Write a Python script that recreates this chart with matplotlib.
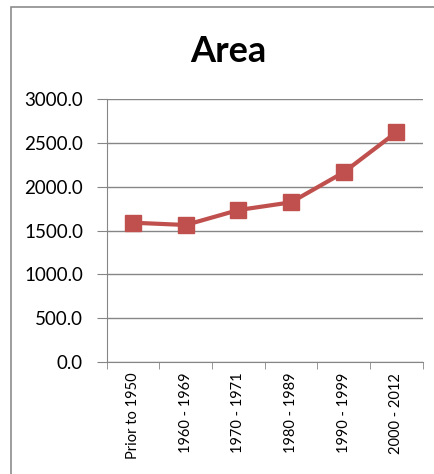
import numpy as np
import matplotlib
matplotlib.use('Agg')
import matplotlib.pyplot as plt
from matplotlib.patches import Rectangle
from matplotlib.ticker import FormatStrFormatter, FixedLocator

# data
periods = ['Prior to 1950', '1960 - 1969', '1970 - 1971',
           '1980 - 1989', '1990 - 1999', '2000 - 2012']
area = [1589, 1563, 1734, 1822, 2165, 2623]
y_ticks = [0, 500, 1000, 1500, 2000, 2500, 3000]

plt.rcParams['font.family'] = ['Lato', 'DejaVu Sans']

W, H = 434, 474
fig = plt.figure(figsize=(W / 100, H / 100), dpi=100)

# chart border (only left/top visible in the reference)
fig.patches.append(Rectangle((11 / W, -0.01), 1.1, 1.01 - 7 / H,
                             transform=fig.transFigure, fill=False,
                             edgecolor='#8c8c8c', linewidth=1.2))

ax = fig.add_axes([106.7 / W, 1 - 361.7 / H, 316 / W, 262.4 / H])

x = np.arange(len(periods))
ax.plot(x, area, color='#C0504D', linewidth=3, marker='s',
        markersize=11, zorder=3)

ax.set_xlim(-0.5, len(periods) - 0.5)
ax.set_ylim(y_ticks[0], y_ticks[-1])
ax.set_yticks(y_ticks)
ax.yaxis.set_major_formatter(FormatStrFormatter('%.1f'))
ax.grid(axis='y', color='#868686', linewidth=1)
ax.set_axisbelow(True)

ax.set_xticks(x)
ax.set_xticklabels(periods, rotation=90, fontsize=10.5)
ax.tick_params(axis='x', length=0, pad=8)
ax.xaxis.set_minor_locator(FixedLocator(np.arange(-0.5, len(periods), 1)))
ax.tick_params(axis='x', which='minor', length=5, color='#868686')
ax.tick_params(axis='y', length=7, color='#868686', labelsize=13.5, pad=10)

for s in ['top', 'right']:
    ax.spines[s].set_visible(False)
for s in ['left', 'bottom']:
    ax.spines[s].set_color('#868686')

fig.text(228 / W, 1 - 51 / H, 'Area', ha='center', va='center',
         fontsize=26, fontweight='bold')

fig.savefig('out.png', dpi=100)
